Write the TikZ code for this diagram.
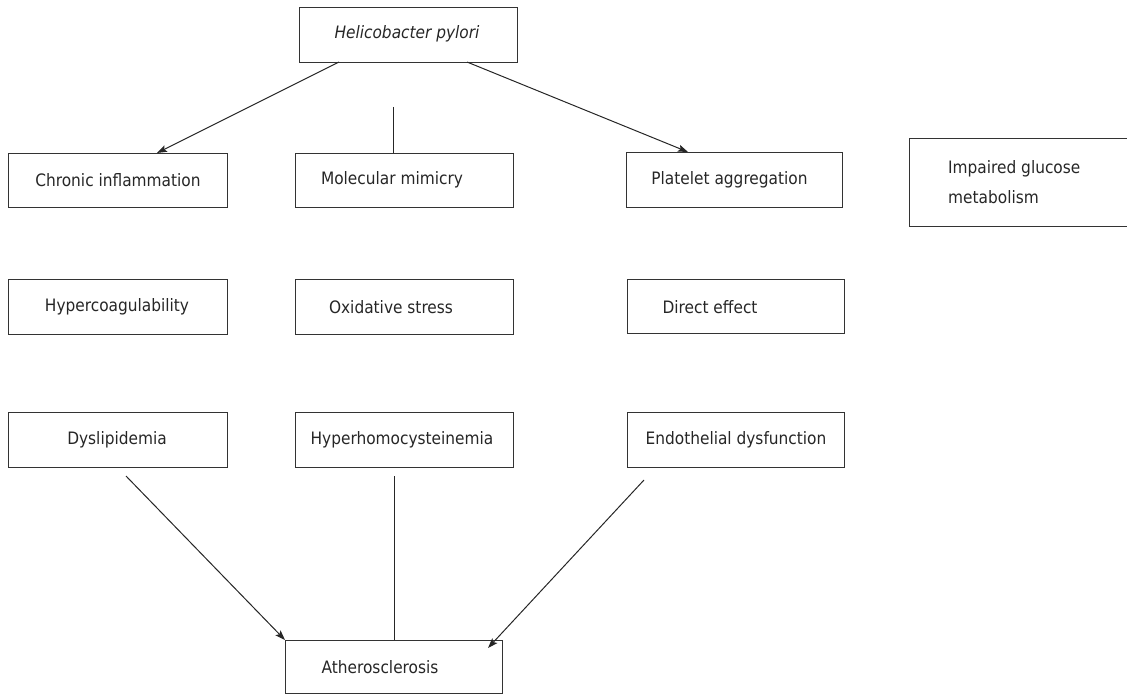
\documentclass[tikz,border=0pt]{standalone}
\usepackage{fontspec}
\setmainfont{DejaVu Sans Condensed}
\usetikzlibrary{arrows.meta}
\tikzset{
  box/.style={draw=black!80, line width=1.3pt, inner sep=0pt, anchor=north west},
  txt/.style={inner sep=0pt, font=\fontsize{17.1}{20}\selectfont, text=black!85},
  conn/.style={draw=black!85, line width=1pt},
  arr/.style={conn, -{Stealth[length=10pt,width=7pt,inset=2pt]}}
}
\begin{document}
\begin{tikzpicture}[x=1pt,y=-1pt]
\useasboundingbox (0,0) rectangle (1127,695);
% boxes (north west corner, width, height)
\node[box, minimum width=218pt, minimum height=55pt] (hp) at (299,7) {};
\node[box, minimum width=219pt, minimum height=54pt] (ci) at (8,153) {};
\node[box, minimum width=218pt, minimum height=54pt] (mm) at (295,153) {};
\node[box, minimum width=216pt, minimum height=55pt] (pa) at (626,152) {};
\node[box, minimum width=230pt, minimum height=88pt] (ig) at (909,138) {};
\node[box, minimum width=219pt, minimum height=55pt] (hc) at (8,279) {};
\node[box, minimum width=218pt, minimum height=55pt] (os) at (295,279) {};
\node[box, minimum width=217pt, minimum height=54pt] (de) at (627,279) {};
\node[box, minimum width=219pt, minimum height=55pt] (dl) at (8,412) {};
\node[box, minimum width=218pt, minimum height=55pt] (hh) at (295,412) {};
\node[box, minimum width=217pt, minimum height=55pt] (ed) at (627,412) {};
\node[box, minimum width=217pt, minimum height=53pt] (at) at (285,640) {};
% texts
\node[txt] (thp) at (407,34) {\itshape Helicobacter pylori};
\node[txt] (tci) at (118,180) {Chronic inflammation};
\node[txt] (tmm) at (392,180) {Molecular mimicry};
\node[txt] (tpa) at (729.5,180) {Platelet aggregation};
\node[txt, anchor=west, align=left, font=\fontsize{17.1}{30}\selectfont] (tig) at (948,182) {Impaired glucose\\metabolism};
\node[txt] (thc) at (117,307) {Hypercoagulability};
\node[txt] (tos) at (391,307) {Oxidative stress};
\node[txt] (tde) at (710,307) {Direct effect};
\node[txt] (tdl) at (117,440) {Dyslipidemia};
\node[txt] (thh) at (402,440) {Hyperhomocysteinemia};
\node[txt] (ted) at (736,440) {Endothelial dysfunction};
\node[txt] (tat) at (380,667) {Atherosclerosis};
% connector free ends
\coordinate (hpL) at (339,62);
\coordinate (hpR) at (467,62);
\coordinate (ciT) at (157,153);
\coordinate (paT) at (688,152);
\coordinate (mmS) at (393,107);
\coordinate (mmT) at (393,153);
\coordinate (dlS) at (126,476);
\coordinate (hhS) at (394,476);
\coordinate (edS) at (644,480);
\coordinate (atL) at (285,640);
\coordinate (atM) at (394,640);
\coordinate (atR) at (488,648);
\draw[arr] (hpL) -- (ciT);
\draw[arr] (hpR) -- (paT);
\draw[conn] (mmS) -- (mmT);
\draw[arr] (dlS) -- (atL);
\draw[conn] (hhS) -- (atM);
\draw[arr] (edS) -- (atR);
\end{tikzpicture}
\end{document}
